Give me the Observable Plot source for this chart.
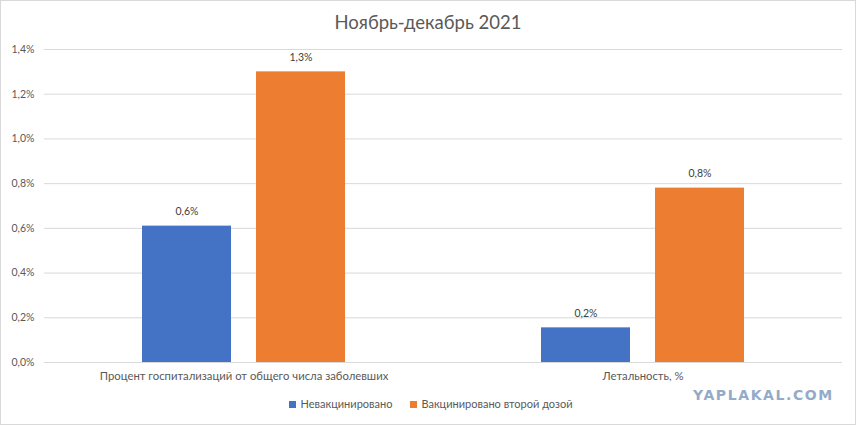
<!DOCTYPE html>
<html>
<head>
<meta charset="utf-8">
<script src="https://cdn.jsdelivr.net/npm/d3@7/dist/d3.min.js"></script>
<script src="https://cdn.jsdelivr.net/npm/@observablehq/plot@0.6/dist/plot.umd.min.js"></script>
<style>
  html, body { margin: 0; padding: 0; background: #fff; }
  #frame { position: relative; width: 854px; height: 423px; border: 1px solid #d9d9d9; font-family: Lato, "Open Sans", sans-serif; overflow: hidden; }
  #title { height: 40px; line-height: 42px; text-align: center; font-size: 18.5px; color: #595959; }
  #legend { display: flex; justify-content: center; gap: 18px; font-size: 11px; color: #595959; margin-top: 10px; margin-left: 6px; }
  #legend span.sw { display: inline-block; width: 7px; height: 7px; margin-right: 4px; vertical-align: 0px; }
  #wm { position: absolute; left: 692px; top: 386px; font-family: "DejaVu Sans", sans-serif; font-weight: bold; font-size: 14px; letter-spacing: 1.6px; color: #93abc8; }
</style>
</head>
<body>
<div id="frame">
  <div id="title">Ноябрь-декабрь 2021</div>
  <div id="chart"></div>
  <div id="legend"></div>
  <div id="wm">YAPLAKAL.COM</div>
</div>
<script>
const categories = ["Процент госпитализаций от общего числа заболевших", "Летальность, %"];
const series = ["Невакцинировано", "Вакцинировано второй дозой"];
const colors = ["#4472C4", "#ED7D31"];
const unvaccinated = [0.61, 0.155];
const vaccinated = [1.30, 0.78];
const yTicks = [0, 0.2, 0.4, 0.6, 0.8, 1.0, 1.2, 1.4];

const fmt = v => v.toFixed(1).replace(".", ",") + "%";

const data = [];
categories.forEach((c, i) => {
  data.push({category: c, series: series[0], value: unvaccinated[i]});
  data.push({category: c, series: series[1], value: vaccinated[i]});
});

const chart = Plot.plot({
  width: 854,
  height: 346,
  marginLeft: 43,
  marginRight: 13,
  marginTop: 8,
  marginBottom: 25,
  style: {fontFamily: "Lato, 'Open Sans', sans-serif", fontSize: "10.5px", color: "#595959", background: "#fff"},
  fx: {domain: categories, padding: 0, label: null},
  x: {domain: series, paddingInner: 0.22, paddingOuter: 0.86, axis: null},
  y: {domain: [0, 1.4], label: null},
  color: {domain: series, range: colors},
  marks: [
    Plot.gridY(yTicks, {stroke: "#d9d9d9", strokeOpacity: 1}),
    Plot.axisY(yTicks, {tickSize: 0, tickPadding: 10, tickFormat: fmt, label: null, fill: "#595959", fontSize: 10.5}),
    Plot.axisFx({anchor: "bottom", tickSize: 0, tickPadding: 9, label: null, fill: "#595959", fontSize: 11.3}),
    Plot.barY(data, {fx: "category", x: "series", y: "value", fill: "series"}),
    Plot.ruleY([0], {stroke: "#d9d9d9"}),
    Plot.text(data, {fx: "category", x: "series", y: "value", text: d => fmt(d.value), dy: -14, fill: "#404040", fontSize: 10.5})
  ]
});
document.getElementById("chart").appendChild(chart);

const legend = document.getElementById("legend");
series.forEach((s, i) => {
  const item = document.createElement("div");
  const sw = document.createElement("span");
  sw.className = "sw";
  sw.style.background = colors[i];
  item.appendChild(sw);
  item.appendChild(document.createTextNode(s));
  legend.appendChild(item);
});
</script>
</body>
</html>
